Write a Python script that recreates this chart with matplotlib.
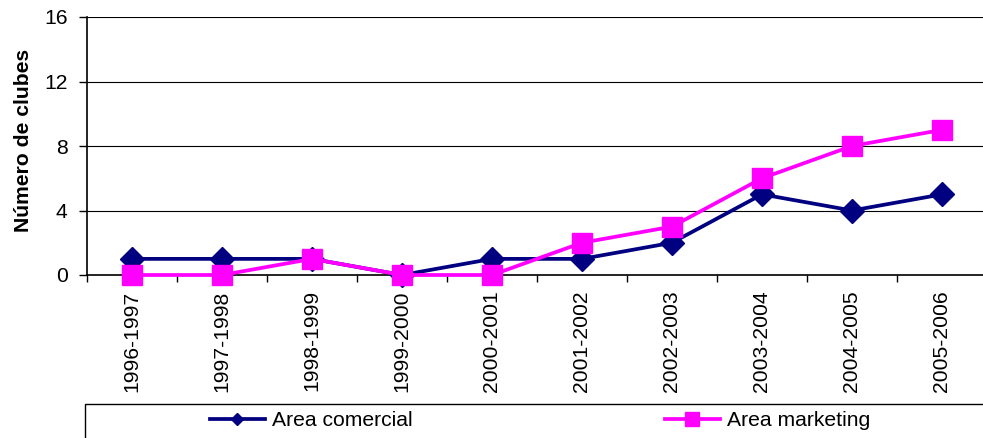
import numpy as np
import matplotlib.pyplot as plt
from matplotlib.patches import Rectangle
from matplotlib.lines import Line2D

seasons = ['1996-1997', '1997-1998', '1998-1999', '1999-2000', '2000-2001',
           '2001-2002', '2002-2003', '2003-2004', '2004-2005', '2005-2006']
comercial = [1, 1, 1, 0, 1, 1, 2, 5, 4, 5]
marketing = [0, 0, 1, 0, 0, 2, 3, 6, 8, 9]

plt.rcParams['font.family'] = ['Liberation Sans', 'DejaVu Sans']
fs = 15.2

fig = plt.figure(figsize=(9.83, 4.38), dpi=100)
W, H = 983, 438
ax = fig.add_axes([87 / W, 1 - 275 / H, 900 / W, 258 / H])

x = np.arange(len(seasons))
ax.plot(x, comercial, color='#000080', linewidth=2.7, marker='D', markersize=12.5,
        zorder=3, clip_on=False)
ax.plot(x, marketing, color='#FF00FF', linewidth=2.7, marker='s', markersize=14,
        zorder=4, clip_on=False)

ax.set_xlim(-0.5, len(seasons) - 0.5)
ax.set_ylim(0, 16)
ax.set_yticks([0, 4, 8, 12, 16])
ax.yaxis.grid(True, color='#000000', linewidth=0.8)
ax.set_axisbelow(True)

ax.set_xticks(x)
ax.set_xticklabels(seasons, rotation=90, fontsize=fs)
ax.set_xticks(np.arange(-0.5, len(seasons), 1), minor=True)
ax.tick_params(axis='x', which='major', length=0, pad=11)
ax.tick_params(axis='x', which='minor', length=5, width=1, direction='out')
ax.tick_params(axis='y', labelsize=fs, length=6, width=1, pad=8)

for s in ['top', 'right']:
    ax.spines[s].set_visible(False)
for s in ['left', 'bottom']:
    ax.spines[s].set_linewidth(1.2)

ax.set_ylabel('Número de clubes', fontsize=15.2, fontweight='bold')
ax.yaxis.set_label_coords(-54 / 900, 135 / 258)

# legend box at the bottom
fig.patches.append(Rectangle((85 / W, -0.2), 1.0, 1 - 404 / H + 0.2,
                             transform=fig.transFigure, fill=False,
                             edgecolor='#000000', linewidth=1.0))

h1 = Line2D([], [], color='#000080', linewidth=2.7, marker='D', markersize=6.5)
h2 = Line2D([], [], color='#FF00FF', linewidth=2.7, marker='s', markersize=9.5)
fig.legend([h1], ['Area comercial'], loc='center left',
           bbox_to_anchor=(210 / W, 1 - 421 / H), frameon=False, fontsize=fs,
           borderpad=0, borderaxespad=0, handlelength=2.6, handletextpad=0.35)
fig.legend([h2], ['Area marketing'], loc='center left',
           bbox_to_anchor=(665 / W, 1 - 421 / H), frameon=False, fontsize=fs,
           borderpad=0, borderaxespad=0, handlelength=2.6, handletextpad=0.35)

fig.savefig('out.png', dpi=100)
